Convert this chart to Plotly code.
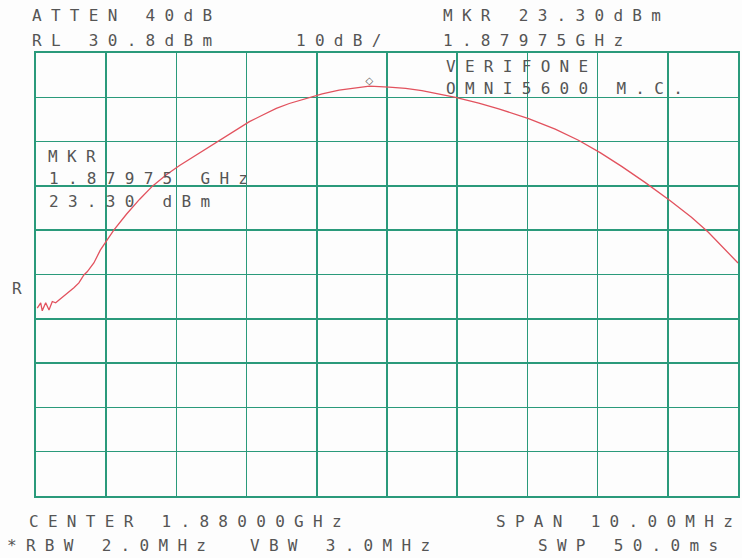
import plotly.graph_objects as go

# Swept trace: frequency (MHz) and level (dBm)
freq_mhz = [
    1875.018, 1875.067, 1875.089, 1875.138, 1875.185, 1875.232, 1875.280,
    1875.327, 1875.374, 1875.422, 1875.469, 1875.540, 1875.611, 1875.682,
    1875.729, 1875.824, 1875.916, 1876.000, 1876.108, 1876.288, 1876.477,
    1876.662, 1876.857, 1877.045, 1877.330, 1877.567, 1877.798, 1878.040,
    1878.230, 1878.423, 1878.608, 1878.845, 1879.077, 1879.318, 1879.555,
    1879.750, 1880.028, 1880.266, 1880.497, 1880.739, 1880.976, 1881.307,
    1881.591, 1882.017, 1882.396, 1882.727, 1883.036, 1883.342, 1883.675,
    1884.030, 1884.337, 1884.574, 1884.811, 1885.000,
]
level_dbm = [
    -26.8, -25.6, -27.4, -25.6, -27.2, -25.3, -25.6,
    -25.0, -24.2, -23.8, -23.1, -22.2, -21.1, -19.3,
    -18.6, -16.6, -13.7, -11.6, -9.2, -5.6, -2.2,
    0.8, 3.3, 5.4, 8.2, 10.7, 12.9, 15.3,
    16.8, 18.3, 19.4, 20.6, 21.6, 22.4, 22.95,
    23.30, 23.1, 22.8, 22.3, 21.6, 20.8, 19.5,
    18.2, 16.0, 13.6, 11.1, 8.3, 5.2, 1.6,
    -2.5, -6.3, -9.6, -13.5, -16.6,
]

# Instrument settings
center_mhz = 1880.0
span_mhz = 10.0
ref_level_dbm = 30.8
db_per_div = 10.0
marker_mhz = 1879.75
marker_dbm = 23.30

# Annotation texts: (text, left px, center-y px)
header_texts = [
    ("ATTEN 40dB", 30, 16),
    ("RL 30.8dBm", 30, 40),
    ("10dB/", 295, 40),
    ("MKR 23.30dBm", 442, 16),
    ("1.87975GHz", 442, 40),
    ("VERIFONE", 445, 66),
    ("OMNI5600 M.C.", 445, 88),
    ("MKR", 46, 156),
    ("1.87975 GHz", 47, 178),
    ("23.30 dBm", 47, 201),
    ("R", 10, 288),
    ("CENTER 1.88000GHz", 27, 521),
    ("SPAN 10.00MHz", 495, 521),
    ("*RBW 2.0MHz", 5, 545),
    ("VBW 3.0MHz", 249, 545),
    ("SWP 50.0ms", 537, 545),
]

W, H = 742, 558
L, R, T, B = 36, 2, 53, 62
GRID = "#2a9a7b"
INK = "#555555"
TRACE = "#e2525e"
FONT = "DejaVu Sans Mono"
LETTER_SPACING = 9.3


def to_paper(px, py):
    return (px - L) / (W - L - R), (H - B - py) / (H - T - B)


def plotter_text(s):
    # widely spaced plotter lettering; no trailing space after the last glyph
    if len(s) < 2:
        return s
    return f'<span style="letter-spacing:{LETTER_SPACING}px">{s[:-1]}</span>{s[-1]}'


fig = go.Figure()
fig.add_trace(go.Scatter(
    x=freq_mhz, y=level_dbm, mode="lines",
    line=dict(color=TRACE, width=1.3), hoverinfo="skip", showlegend=False,
))
# Marker symbol sitting on the peak
fig.add_trace(go.Scatter(
    x=[marker_mhz], y=[marker_dbm], mode="text", text=["\u25c7"],
    textposition="top center", textfont=dict(family="DejaVu Sans", size=10, color=INK),
    hoverinfo="skip", showlegend=False,
))

annotations = []
for text, px, py in header_texts:
    ax, ay = to_paper(px, py)
    annotations.append(dict(
        text=plotter_text(text), x=ax, y=ay, xref="paper", yref="paper",
        xanchor="left", yanchor="middle", align="left", showarrow=False,
        font=dict(family=FONT, size=16, color=INK),
    ))

axis_common = dict(
    showgrid=True, gridcolor=GRID, gridwidth=1.5,
    showline=True, linecolor=GRID, linewidth=1.8, mirror=True,
    zeroline=False, showticklabels=False, ticks="",
)

fig.update_layout(
    width=W, height=H, autosize=False,
    margin=dict(l=L, r=R, t=T, b=B, pad=0),
    paper_bgcolor="#fdfdfd", plot_bgcolor="#fdfdfd",
    xaxis=dict(range=[center_mhz - span_mhz / 2, center_mhz + span_mhz / 2],
               tick0=center_mhz - span_mhz / 2, dtick=span_mhz / 10, **axis_common),
    yaxis=dict(range=[ref_level_dbm - 10 * db_per_div, ref_level_dbm],
               tick0=ref_level_dbm, dtick=db_per_div, **axis_common),
    annotations=annotations,
)

fig.write_html("out.html", config={"displayModeBar": False, "staticPlot": True})
